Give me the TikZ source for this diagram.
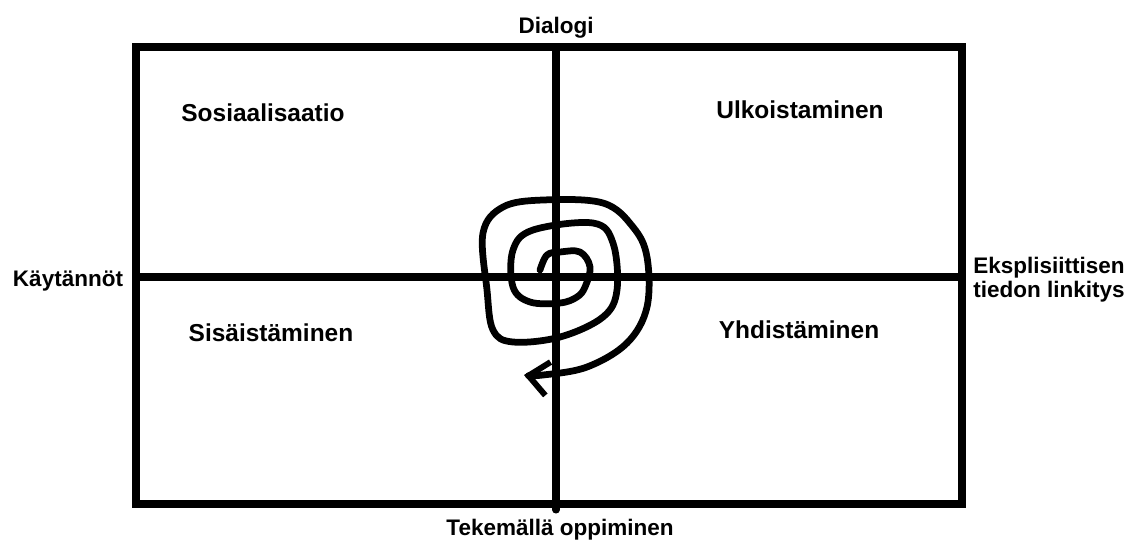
\documentclass[tikz,border=0pt]{standalone}
\usepackage{fontspec}
\setmainfont{Liberation Sans}
\usetikzlibrary{arrows.meta,positioning}

\begin{document}
\begin{tikzpicture}[
  x=0.025cm, y=-0.025cm,
  axislabel/.style={font=\fontsize{16}{19}\selectfont\bfseries, inner sep=0pt},
  quadlabel/.style={font=\fontsize{17.4}{20}\selectfont\bfseries, inner sep=0pt},
  frame/.style={line width=5pt, black},
  spiral/.style={line width=4.8pt, black, line cap=round, line join=round}
]
\useasboundingbox (0,0) rectangle (1136,548);

% frame and axes
\draw[frame] (136,47) rectangle (962,504);
\draw[frame] (136,277) -- (962,277);
\draw[frame, line cap=round] (556,47) -- (556,510);

% axis labels
\node[axislabel] (dialogi) at (556,28) {Dialogi};
\node[axislabel] (kaytannot) at (68,281) {Käytännöt};
\node[axislabel, anchor=west, align=left] (linkitys) at (973,280) {Eksplisiittisen\\[-2pt]tiedon linkitys};
\node[axislabel] (tekemalla) at (560,530) {Tekemällä oppiminen};

% quadrant labels
\node[quadlabel] (sosiaalisaatio) at (263,113) {Sosiaalisaatio};
\node[quadlabel] (ulkoistaminen) at (800,110) {Ulkoistaminen};
\node[quadlabel] (sisaistaminen) at (271,333) {Sisäistäminen};
\node[quadlabel] (yhdistaminen) at (799,330) {Yhdistäminen};

% spiral
\draw[spiral, -{Straight Barb[length=14pt, width=24pt, line width=4.2pt]}]
  plot[smooth, tension=0.6] coordinates {
    (540,270) (547,255) (560,252) (580,252) (590,267) (585,287)
    (577,297) (560,303) (530,302) (513,287) (513,250) (533,230)
    (593,223) (613,243) (617,290) (603,317) (560,337) (513,342)
    (493,330) (487,290) (483,233) (503,207) (543,200) (603,203)
    (633,227) (647,257) (647,307) (627,343) (587,367) (543,375)
    (524,375)};
\end{tikzpicture}
\end{document}
